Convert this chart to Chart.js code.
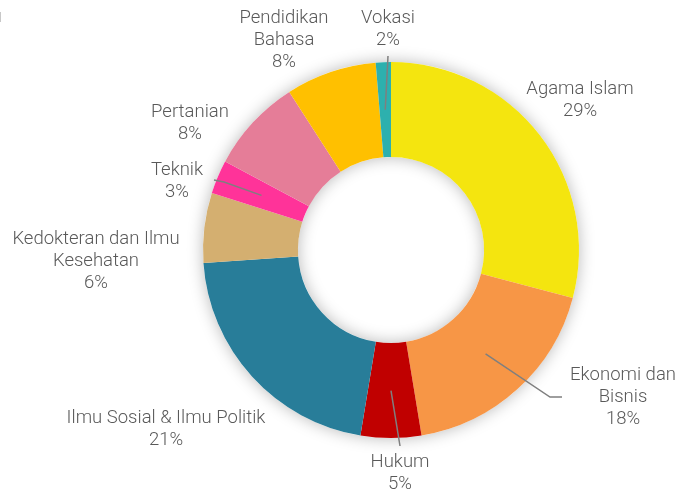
<!DOCTYPE html>
<html>
<head>
<meta charset="utf-8">
<script src="https://cdn.jsdelivr.net/npm/chart.js@4.4.1/dist/chart.umd.min.js"></script>
<style>
  html, body { margin: 0; padding: 0; background: #fff; }
  #wrap { width: 682px; height: 494px; position: relative; }
</style>
</head>
<body>
<div id="wrap"><canvas id="facultyChart" width="682" height="494"></canvas></div>
<script>
// ===== DATA =====
const categories = [
  ["Agama Islam"],
  ["Ekonomi dan", "Bisnis"],
  ["Hukum"],
  ["Ilmu Sosial & Ilmu Politik"],
  ["Kedokteran dan Ilmu", "Kesehatan"],
  ["Teknik"],
  ["Pertanian"],
  ["Pendidikan", "Bahasa"],
  ["Vokasi"]
];
const shares = [29.1, 18.3, 5.2, 21.3, 6.0, 2.9, 8.1, 7.8, 1.3];
const pctLabels = ["29%", "18%", "5%", "21%", "6%", "3%", "8%", "8%", "2%"];
const colors = ["#F4E50F", "#F79646", "#C00000", "#287D99", "#D4AF70",
                "#FF3399", "#E57D98", "#FFC000", "#2DB0AE"];

// ===== LABEL LAYOUT (offsets from doughnut centre, px) =====
const labelPos = [
  [189, -150], [232, 147], [9, 223], [-225, 179], [-295, 11],
  [-214, -69], [-201, -127], [-107, -210], [-3, -221]
];
// leader lines: extra points after the slice middle, or null
const leaders = [
  null,
  [[159, 147], [171, 147]],
  [[9, 196]],
  null,
  null,
  [[-167, -68], [-177, -70]],
  null,
  null,
  [[-3, -194]]
];

const FONT = "300 18.5px Roboto, 'Open Sans', sans-serif";
const LINE_H = 22;

// soft shadow under the ring
const ringShadow = {
  id: 'ringShadow',
  beforeDatasetsDraw(chart) {
    const arc = chart.getDatasetMeta(0).data[0];
    if (!arc) return;
    const ctx = chart.ctx;
    ctx.save();
    ctx.shadowColor = 'rgba(0,0,0,0.28)';
    ctx.shadowBlur = 16;
    ctx.fillStyle = '#ffffff';
    ctx.beginPath();
    ctx.arc(arc.x, arc.y, arc.outerRadius, 0, Math.PI * 2);
    ctx.arc(arc.x, arc.y, arc.innerRadius, 0, Math.PI * 2, true);
    ctx.fill();
    ctx.restore();
  }
};

// outside labels with leader lines
const outLabels = {
  id: 'outLabels',
  afterDatasetsDraw(chart) {
    const ctx = chart.ctx;
    const meta = chart.getDatasetMeta(0);
    meta.data.forEach(function(arc, i){
      const cx = arc.x, cy = arc.y;
      if (leaders[i]) {
        const start = arc.tooltipPosition();
        ctx.save();
        ctx.strokeStyle = '#7F7F7F';
        ctx.lineWidth = 1.5;
        ctx.beginPath();
        ctx.moveTo(start.x, start.y);
        leaders[i].forEach(function(p){ ctx.lineTo(cx + p[0], cy + p[1]); });
        ctx.stroke();
        ctx.restore();
      }
      const lines = categories[i].concat([pctLabels[i]]);
      const x = cx + labelPos[i][0];
      const y0 = cy + labelPos[i][1] - (lines.length - 1) * LINE_H / 2;
      ctx.save();
      ctx.font = FONT;
      ctx.fillStyle = '#595959';
      ctx.textAlign = 'center';
      ctx.textBaseline = 'middle';
      lines.forEach(function(t, k){ ctx.fillText(t, x, y0 + k * LINE_H); });
      ctx.restore();
    });
    // small cut-off mark at the top-left edge
    ctx.save();
    ctx.fillStyle = '#C8C8C8';
    ctx.fillRect(0, 12, 1, 10);
    ctx.restore();
  }
};

new Chart(document.getElementById('facultyChart'), {
  type: 'doughnut',
  data: {
    labels: categories,
    datasets: [{
      data: shares,
      backgroundColor: colors,
      borderWidth: 0,
      hoverOffset: 0
    }]
  },
  options: {
    responsive: false,
    animation: false,
    cutout: '49.5%',
    layout: { padding: { left: 203, right: 103, top: 62, bottom: 56 } },
    plugins: {
      legend: { display: false },
      tooltip: { enabled: false }
    }
  },
  plugins: [ringShadow, outLabels]
});
</script>
</body>
</html>
